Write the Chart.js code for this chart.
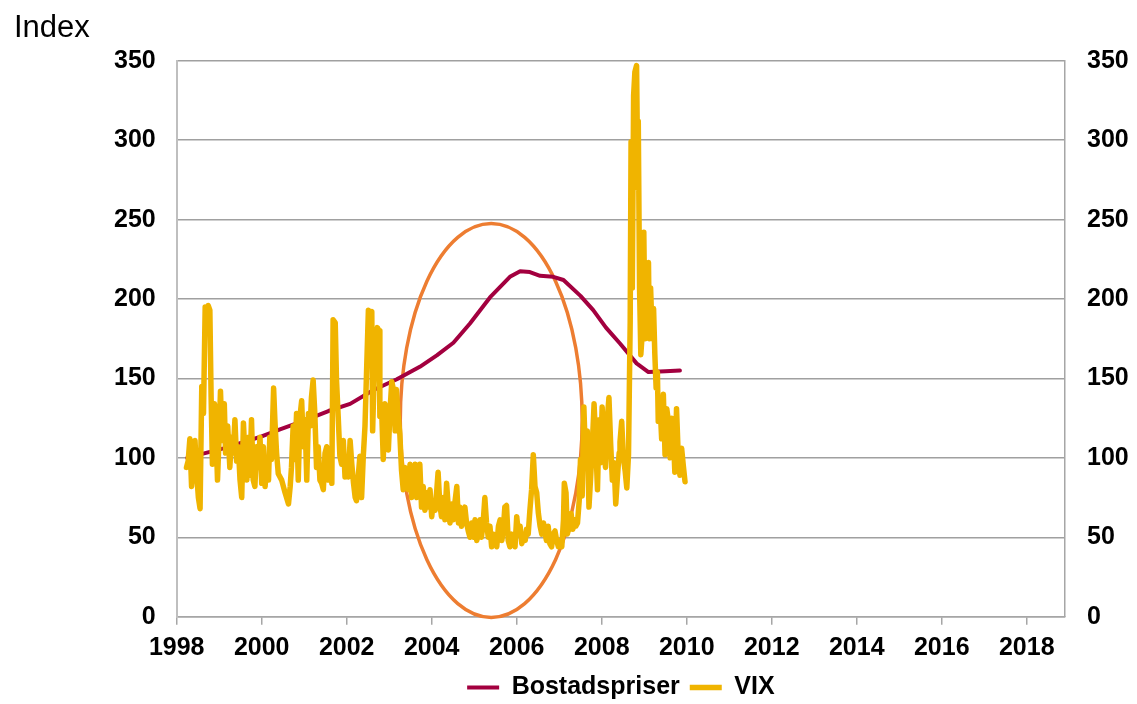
<!DOCTYPE html>
<html><head><meta charset="utf-8">
<script src="https://cdn.jsdelivr.net/npm/chart.js@4.4.1/dist/chart.umd.min.js"></script>
<style>html,body{margin:0;padding:0;background:#fff;}#wrap{width:1137px;height:704px;}</style>
</head><body><div id="wrap"><canvas id="c" width="1137" height="704"></canvas></div>
<script>
const xTicks = [1998, 2000, 2002, 2004, 2006, 2008, 2010, 2012, 2014, 2016, 2018];
const yTicks = [0, 50, 100, 150, 200, 250, 300, 350];

const housingYears = [1998.25, 1998.6, 1999.1, 1999.53, 2000.0, 2000.43, 2001.0, 2001.57, 2002.08, 2002.63, 2003.18, 2003.72, 2004.12, 2004.51, 2004.9, 2005.37, 2005.84, 2006.08, 2006.31, 2006.55, 2006.86, 2007.1, 2007.5, 2007.8, 2008.1, 2008.43, 2008.82, 2009.1, 2009.5, 2009.84];
const housingValues = [100, 102.5, 106, 109.5, 113.5, 118, 123.5, 129.5, 134, 142.7, 149.5, 157.3, 164.5, 172.5, 184.6, 201, 214, 217.5, 217, 214.6, 214, 212, 202, 193, 182, 172, 159.5, 154, 154.5, 155];

const vixYears = [
1998.23,1998.27,1998.31,1998.35,1998.39,1998.43,1998.47,1998.51,1998.55,1998.59,1998.63,1998.67,1998.70,1998.74,1998.78,1998.81,1998.84,1998.89,1998.92,1998.96,
1999.00,1999.03,1999.07,1999.12,1999.15,1999.20,1999.25,1999.29,1999.33,1999.37,1999.41,1999.45,1999.49,1999.53,1999.57,1999.61,1999.65,1999.69,1999.72,1999.76,
1999.80,1999.84,1999.88,1999.92,1999.96,2000.00,2000.04,2000.08,2000.12,2000.16,2000.19,2000.23,2000.28,2000.31,2000.35,2000.39,2000.47,2000.55,2000.63,2000.67,
2000.70,2000.74,2000.78,2000.82,2000.86,2000.90,2000.94,2000.98,2001.02,2001.06,2001.10,2001.14,2001.17,2001.21,2001.25,2001.29,2001.33,2001.37,2001.41,2001.45,
2001.49,2001.53,2001.57,2001.61,2001.65,2001.68,
2001.73,2001.76,2001.80,2001.84,2001.88,2001.92,2001.96,2002.00,2002.04,2002.08,2002.12,2002.16,2002.20,2002.23,2002.27,2002.31,2002.35,2002.39,2002.43,2002.47,
2002.51,2002.55,2002.59,2002.61,2002.64,2002.68,2002.72,2002.76,2002.78,2002.82,2002.86,2002.90,2002.94,2002.98,2003.02,2003.06,2003.10,2003.14,2003.17,2003.21,
2003.25,2003.29,2003.33,2003.37,2003.41,2003.45,2003.49,2003.53,2003.57,2003.61,2003.65,2003.68,2003.72,2003.76,2003.80,2003.84,2003.88,2003.92,2003.96,2004.00,
2004.04,2004.08,2004.12,2004.15,2004.19,2004.23,2004.27,2004.31,2004.35,2004.39,2004.43,2004.47,2004.51,2004.55,2004.59,2004.63,2004.66,2004.70,2004.74,2004.78,
2004.82,2004.86,2004.90,2004.94,2004.98,2005.02,2005.06,2005.10,2005.14,2005.17,2005.21,2005.25,2005.29,2005.33,
2005.37,2005.41,2005.45,2005.49,2005.53,2005.57,2005.61,2005.65,2005.69,2005.72,2005.76,2005.80,2005.84,2005.88,2005.92,2005.96,2006.00,2006.04,2006.08,2006.12,
2006.16,2006.20,2006.23,2006.27,2006.31,2006.35,2006.39,2006.43,2006.47,2006.51,2006.55,2006.59,2006.63,2006.67,2006.70,2006.74,2006.78,2006.82,2006.86,2006.90,
2006.94,2006.98,2007.02,2007.06,2007.10,2007.12,2007.16,2007.19,2007.24,2007.28,2007.32,2007.36,2007.39,2007.43,2007.47,2007.50,2007.54,2007.58,2007.62,2007.66,
2007.70,2007.74,2007.78,2007.82,2007.86,2007.90,2007.94,2007.97,2008.01,2008.05,2008.09,2008.13,2008.17,2008.21,2008.25,2008.29,2008.33,2008.37,2008.41,
2008.43,2008.47,2008.51,2008.55,2008.59,2008.63,2008.67,2008.69,2008.72,2008.75,2008.78,2008.82,2008.85,2008.86,2008.89,2008.92,2008.94,2008.96,2008.99,2009.02,
2009.06,2009.10,2009.12,2009.15,2009.19,2009.22,2009.25,2009.28,2009.31,2009.33,2009.37,2009.41,2009.45,2009.49,2009.53,2009.57,2009.61,2009.65,2009.69,2009.72,
2009.76,2009.80,2009.84,2009.88,2009.92,2009.96];
const vixValues = [
94,98,112,82,96,111,90,75,68,145,128,195,180,196,193,138,96,134,122,86,
115,142,111,134,103,120,94,113,103,124,98,107,86,75,122,99,86,113,89,124,
86,82,107,94,113,84,107,82,99,86,113,99,144,124,103,90,86,78,71,82,
94,120,99,128,86,126,136,107,124,86,128,120,138,149,128,94,107,86,84,80,
103,107,86,103,84,187,
185,149,126,101,96,111,88,96,88,111,96,84,75,73,88,101,75,101,120,157,
193,191,192,117,147,174,182,180,126,132,99,134,124,105,130,148,143,117,143,126,
115,92,80,94,86,80,96,75,86,96,75,88,96,69,82,67,78,69,80,63,
73,67,80,91,71,63,75,61,84,69,59,71,61,73,82,59,69,57,61,69,
59,54,50,59,50,61,48,54,61,50,59,75,59,50,
57,44,52,48,44,57,61,48,57,69,70,48,44,52,48,44,63,52,57,46,
52,48,55,52,67,80,102,82,78,65,57,52,59,52,48,57,46,44,52,54,
48,44,48,44,61,84,78,52,57,65,55,61,57,59,73,99,76,132,99,117,
69,88,109,134,109,80,124,97,132,105,94,124,138,109,86,97,71,88,103,
110,123,100,92,81,102,186,299,207,328,343,347,270,312,207,165,173,217,242,175,
207,223,175,207,175,194,165,144,154,123,135,112,140,102,131,123,100,125,112,91,
131,102,89,106,95,85];

const ellipseCenter = { year: 2005.40, value: 123.5 };
const ellipseRadius = { years: 2.14, value: 124 };

const FONT = "'Liberation Sans', Arial, sans-serif";

const ellipsePlugin = {
  id: 'ellipseMark',
  beforeDatasetsDraw(chart) {
    const xs = chart.scales.x, ys = chart.scales.y, ctx = chart.ctx;
    const cx = xs.getPixelForValue(ellipseCenter.year);
    const cy = ys.getPixelForValue(ellipseCenter.value);
    const rx = Math.abs(xs.getPixelForValue(ellipseCenter.year + ellipseRadius.years) - cx);
    const ry = Math.abs(ys.getPixelForValue(ellipseCenter.value + ellipseRadius.value) - cy);
    ctx.save();
    ctx.beginPath();
    ctx.ellipse(cx, cy, rx, ry, 0, 0, Math.PI * 2);
    ctx.strokeStyle = '#ED7D31';
    ctx.lineWidth = 3.5;
    ctx.stroke();
    ctx.restore();
  }
};

const tickFont = { family: FONT, size: 25, weight: 'bold' };
const setTicks = (list) => (s) => { s.ticks = list.map(v => ({ value: v })); };

new Chart(document.getElementById('c'), {
  type: 'line',
  data: {
    datasets: [
      {
        label: 'Bostadspriser',
        data: housingYears.map((x, i) => ({ x, y: housingValues[i] })),
        borderColor: '#A3003F', backgroundColor: '#A3003F',
        borderWidth: 4, pointRadius: 0, tension: 0,
        borderJoinStyle: 'round', borderCapStyle: 'round', order: 1
      },
      {
        label: 'VIX',
        data: vixYears.map((x, i) => ({ x, y: vixValues[i] })),
        borderColor: '#F0B400', backgroundColor: '#F0B400',
        borderWidth: 5.5, pointRadius: 0, tension: 0,
        borderJoinStyle: 'round', borderCapStyle: 'round', order: 0
      }
    ]
  },
  options: {
    responsive: false, animation: false, devicePixelRatio: 1,
    layout: { padding: { left: 14, right: 0, top: 0, bottom: 0 } },
    plugins: {
      tooltip: { enabled: false },
      title: {
        display: true, text: 'Index', align: 'start', color: '#000',
        font: { family: FONT, size: 31, weight: 'normal' },
        padding: { top: 10, bottom: 13.6 }
      },
      legend: {
        position: 'bottom', fullSize: false, maxHeight: 39,
        labels: {
          usePointStyle: true, pointStyle: 'line', pointStyleWidth: 32,
          color: '#000', padding: 10,
          font: { family: FONT, size: 25, weight: 'bold' },
          sort: (a, b) => a.datasetIndex - b.datasetIndex
        }
      }
    },
    scales: {
      x: {
        type: 'linear', min: 1998, max: 2018.9,
        afterBuildTicks: setTicks(xTicks),
        afterFit: (s) => { s.height = 48.3; },
        ticks: { callback: v => String(v), color: '#000', font: tickFont, padding: 8, maxRotation: 0, autoSkip: false },
        grid: { drawOnChartArea: false, drawTicks: true, tickLength: 8, color: '#A6A6A6', lineWidth: 1.5 },
        border: { color: '#A6A6A6', width: 1.5 }
      },
      y: {
        position: 'left', min: 0, max: 350,
        afterBuildTicks: setTicks(yTicks),
        afterFit: (s) => { s.width = 162.7; },
        ticks: { color: '#000', font: tickFont, padding: 21 },
        grid: { color: '#A0A0A0', lineWidth: 1.5, drawTicks: false },
        border: { color: '#BFBFBF', width: 2 }
      },
      y2: {
        position: 'right', min: 0, max: 350,
        afterBuildTicks: setTicks(yTicks),
        afterFit: (s) => { s.width = 72; },
        ticks: { color: '#000', font: tickFont, padding: 22 },
        grid: { display: false, drawTicks: false },
        border: { color: '#A6A6A6', width: 1.5 }
      }
    }
  },
  plugins: [ellipsePlugin]
});
</script>
</body></html>
